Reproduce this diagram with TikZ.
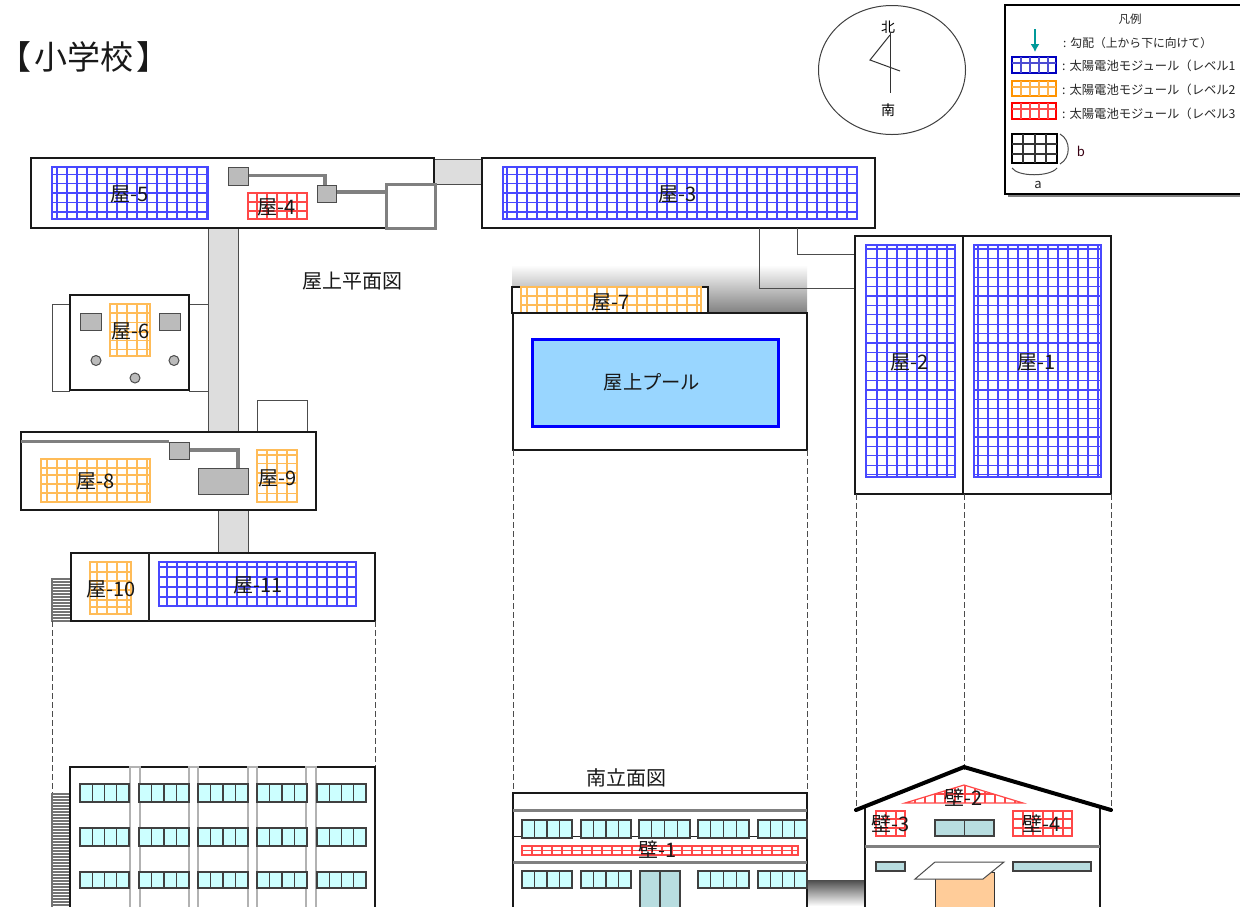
\documentclass[tikz,border=0pt]{standalone}
\usepackage{fontspec}
\usetikzlibrary{arrows.meta}
\setmainfont{Noto Sans CJK JP}
\newcommand{\modgrid}[7]{%
  \draw[modline,draw=#1] (#2,#3) rectangle (#4,#5);
  \foreach \gx in {#6} {\draw[modline,draw=#1] (\gx,#3) -- (\gx,#5);}
  \foreach \gy in {#7} {\draw[modline,draw=#1] (#2,\gy) -- (#4,\gy);}
}
\newcommand{\winbox}[6][wincyan]{%
  \draw[winline,fill=#1] (#2,#3) rectangle (#4,#5);
  \foreach \wi in {1,...,#6} {\draw[winline] ({#2+(#4-#2)*\wi/(#6+1)},#3) -- ({#2+(#4-#2)*\wi/(#6+1)},#5);}
}
\definecolor{modblue}{HTML}{4848FF}
\definecolor{modorange}{HTML}{FFBC58}
\definecolor{modred}{HTML}{FF4848}
\definecolor{wincyan}{HTML}{CCFFFF}
\definecolor{winteal}{HTML}{B8DDE0}
\definecolor{corridor}{HTML}{DDDDDD}
\definecolor{unitgray}{HTML}{BBBBBB}
\definecolor{pipegray}{HTML}{808080}
\tikzset{
  modline/.style={line width=1.2pt},
  winline/.style={line width=1.2pt,draw=black!75},
  wall/.style={line width=2.2pt,draw=black!90},
  thinwall/.style={line width=1pt,draw=black!70},
  bridge/.style={line width=1pt,draw=black!70,fill=corridor},
  unitbox/.style={line width=1pt,draw=black!70,fill=unitgray},
  pipe/.style={line width=3.5pt,draw=pipegray},
  graybar/.style={line width=3pt,draw=pipegray},
  vent/.style={line width=1pt,draw=black!70,fill=unitgray},
  dashline/.style={line width=0.9pt,draw=black!70,dash pattern=on 6pt off 3pt},
  stairline/.style={line width=1.1pt,draw=black!55},
  lab/.style={inner sep=0pt,font=\fontsize{20}{20}\selectfont,text=black!90},
  leg/.style={inner sep=0pt,anchor=west,text=black!85},
  legbig/.style={leg,font=\fontsize{12.3}{13}\selectfont},
}
\begin{document}
\begin{tikzpicture}[x=1pt,y=-1pt]
\useasboundingbox (0,0) rectangle (1240,906);
\clip (0,0) rectangle (1240,906);
\fill[white] (0,0) rectangle (1240,906);

% title
\node[inner sep=0pt,font=\fontsize{33}{33}\selectfont,text=black!90] (title) at (84,57) {【\hspace{3pt}小学校\hspace{3pt}】};

% compass
\draw[line width=1pt,draw=black!75] (892,70) ellipse [x radius=73.5,y radius=64.5];
\node[inner sep=0pt,font=\fontsize{14}{14}\selectfont] (north) at (888,27) {北};
\node[inner sep=0pt,font=\fontsize{14}{14}\selectfont] (south) at (888,110) {南};
\draw[line width=1pt,draw=black!80] (890,33) -- (890,93);
\draw[line width=1pt,draw=black!80] (890,35) -- (870,60) -- (900,71);

% legend
\fill[black!50] (1008,9) rectangle (1244,197);
\draw[line width=1.2pt,fill=white] (1005,5) rectangle (1244,194);
\node[inner sep=0pt,font=\fontsize{11.5}{12}\selectfont,text=black!85] (legtitle) at (1130,19) {凡例};
\coordinate (arrtop) at (1035,29);
\coordinate (arrbot) at (1035,52);
\draw[line width=1.3pt,draw=teal!80!cyan,-{Latex[length=8pt,width=9pt]}] (arrtop) -- (arrbot);
\node[leg,font=\fontsize{11.8}{12}\selectfont] (leg0) at (1063,43) {:\hspace{4pt}勾配（上から下に向けて）};
\node[legbig] (leg1) at (1062,66) {:\hspace{4pt}太陽電池モジュール（レベル1};
\node[legbig] (leg2) at (1062,90) {:\hspace{4pt}太陽電池モジュール（レベル2};
\node[legbig] (leg3) at (1062,114) {:\hspace{4pt}太陽電池モジュール（レベル3};
\foreach \sc/\sa/\sb/\sm in {blue!75!black/57/73/63,orange!85!yellow/81/96/87,red/103/119/109}{
  \draw[line width=2.2pt,draw=\sc] (1012,\sa) rectangle (1056,\sb);
  \draw[line width=1.2pt,draw=\sc!70] (1012,\sm) -- (1056,\sm);
  \foreach \gx in {1021,1030,1039,1048} {\draw[line width=1.2pt,draw=\sc!70] (\gx,\sa) -- (\gx,\sb);}
}
\draw[line width=2.2pt] (1012,134) rectangle (1057,163);
\foreach \gx in {1023,1035,1046} {\draw[line width=1.2pt,draw=black!80] (\gx,134) -- (\gx,163);}
\foreach \gy in {144,154} {\draw[line width=1.2pt,draw=black!80] (1012,\gy) -- (1057,\gy);}
\draw[line width=1pt,draw=black!70] (1060,134) .. controls (1071,140) and (1071,158) .. (1060,164);
\draw[line width=1pt,draw=black!70] (1012,168) .. controls (1018,177) and (1050,177) .. (1057,168);
\node[inner sep=0pt,font=\fontsize{13}{13}\selectfont,text=black!70!purple] (legb) at (1081,151) {b};
\node[inner sep=0pt,font=\fontsize{13}{13}\selectfont,text=black!85] (lega) at (1038,185) {a};

% corridors
\draw[bridge] (208,228) rectangle (238,432);
\draw[bridge] (218,510) rectangle (248,553);
\draw[bridge] (434,159) rectangle (482,184);

% north buildings
\draw[wall,fill=white] (31,158) rectangle (434,228);
\draw[wall,fill=white] (482,158) rectangle (875,228);
\modgrid{modblue}{52}{167}{208}{219}{57,67,...,207}{174.5,183.5,193,202.5,212}
\modgrid{modred}{248}{193}{307}{219}{257,267,...,297}{202,211}
\modgrid{modblue}{503}{167}{857}{219}{507,517,...,857}{174.5,183.5,193,202.5,212}
\draw[pipe] (248,175.5) -- (325,175.5) -- (325,185);
\draw[pipe] (336,192) -- (386,192);
\draw[unitbox] (228,167) rectangle (248,185);
\draw[unitbox] (317,185) rectangle (336,202);
\draw[line width=3pt,draw=pipegray,fill=white] (386,184) rectangle (435,228);
\node[lab] (r5) at (129.5,194) {屋-5};
\node[lab] (r4) at (277,207) {屋-4};
\node[lab] (r3) at (678,194) {屋-3};
\node[lab] (plan) at (352,281) {屋上平面図};

% roof 6
\draw[thinwall] (70,304) -- (52,304) -- (52,391) -- (70,391);
\draw[thinwall] (189,304) -- (208,304);
\draw[thinwall] (189,391) -- (208,391);
\draw[wall,fill=white] (70,295) rectangle (189,390);
\modgrid{modorange}{110}{304}{150}{356}{117,127,137,147}{313,322.5,332,340.5,349.5}
\draw[unitbox] (80,313) rectangle (101,330);
\draw[unitbox] (159,313) rectangle (180,330);
\draw[vent] (96,360.5) circle (5);
\draw[vent] (174,360.5) circle (5);
\draw[vent] (135,378) circle (5);
\node[lab] (r6) at (131,331) {屋-6};

% roof 8 / 9
\draw[thinwall] (257,432) -- (257,400) -- (307,400) -- (307,432);
\draw[wall,fill=white] (21,432) rectangle (316,510);
\modgrid{modorange}{41}{459}{150}{502}{47,57,...,147}{468,475,484,493}
\modgrid{modorange}{257}{450}{297}{502}{267,277,287}{455,463.5,473,483,493.5}
\draw[pipe] (21,441.5) -- (169,441.5);
\draw[pipe] (189,450) -- (238,450) -- (238,468);
\draw[unitbox] (169,442) rectangle (189,459);
\draw[unitbox] (198,468) rectangle (248,494);
\node[lab] (r8) at (96,481) {屋-8};
\node[lab] (r9) at (278,478) {屋-9};

% roof 10 / 11
\draw[stairline,fill=white] (52,579) rectangle (71,621);
\foreach \sy in {582,585,...,618} {\draw[stairline] (52,\sy) -- (71,\sy);}
\draw[wall,fill=white] (71,553) rectangle (375,621);
\draw[line width=1.2pt,draw=black!85] (149,553) -- (149,621);
\modgrid{modorange}{90}{562}{131}{614}{97,107,117,127}{572,581,590,600,607}
\modgrid{modblue}{159}{562}{356}{606}{167,177,...,347}{567,577,587,597}
\node[lab] (r10) at (111,589) {屋-10};
\node[lab] (r11) at (258,585) {屋-11};

% pool building
\shade[top color=white,bottom color=pipegray] (512,265) rectangle (807,313);
\draw[thinwall] (759,228) -- (759,288) -- (855,288);
\draw[thinwall] (797,228) -- (797,254) -- (855,254);
\draw[wall,fill=white] (512,313) -- (512,287) -- (708,287) -- (708,313) -- cycle;
\modgrid{modorange}{521}{287}{701}{314}{527,537,...,697}{296,305}
\draw[wall,fill=white] (513,313) rectangle (807,450);
\draw[line width=3pt,draw=blue,fill=blue!40!cyan!40] (532,339) rectangle (778,426);
\node[lab] (r7) at (611,302) {屋-7};
\node[lab,font=\fontsize{19.3}{20}\selectfont] (pool) at (652,382) {屋上プール};

% roof 1 / 2
\draw[wall,fill=white] (855,236) rectangle (1111,494);
\draw[wall] (963,236) -- (963,494);
\modgrid{modblue}{866}{245}{955}{477}{877,887,...,947}{249,258.4,...,475}
\modgrid{modblue}{974}{245}{1101}{477}{978,988,...,1098}{249,258.4,...,475}
\node[lab] (r2) at (910,362) {屋-2};
\node[lab] (r1) at (1037,362) {屋-1};

% projection lines
\draw[dashline] (52,621) -- (52,794);
\draw[dashline] (375,621) -- (375,767);
\draw[dashline] (513,450) -- (513,793);
\draw[dashline] (807,450) -- (807,793);
\draw[dashline] (856,494) -- (856,810);
\draw[dashline] (964,494) -- (964,785);
\draw[dashline] (1111,494) -- (1111,810);

% west elevation
\draw[stairline,fill=white] (52,794) rectangle (70,910);
\foreach \sy in {797,800,...,906} {\draw[stairline] (52,\sy) -- (70,\sy);}
\draw[wall,fill=white] (70,767) rectangle (375,910);
\foreach \cx/\cy in {130/140,189/198,248/257,306/316} {
  \draw[line width=1.5pt,draw=black!30,fill=white] (\cx,767) rectangle (\cy,910);
}
\foreach \wa/\wb in {784/802,828/846,872/888} {
  \foreach \xa/\xb in {80/129,139/189,198/248,257/307,317/366} {
    \winbox{\xa}{\wa}{\xb}{\wb}{3}
  }
}

% centre elevation
\shade[top color=black!70,bottom color=white] (807,880) rectangle (865,906);
\draw[wall,fill=white] (513,793) rectangle (807,910);
\draw[line width=1pt,draw=black!85] (513,836) -- (807,836);
\draw[graybar] (513,810) -- (807,810);
\draw[graybar] (513,862) -- (807,862);
\foreach \xa/\xb in {522/572,581/631,639/690,698/749,758/807} {
  \winbox{\xa}{820}{\xb}{838}{3}
}
\foreach \xa/\xb in {522/572,581/631,698/749,758/807} {
  \winbox{\xa}{871}{\xb}{888}{3}
}
\winbox[winteal]{640}{871}{680}{910}{1}
\modgrid{modred}{522}{846}{798}{855}{532,542,...,792}{850.5}
\node[lab] (w1) at (658,850) {壁-1};

% east elevation
\fill[white] (865,810) -- (964,770) -- (1100,810) -- (1100,906) -- (865,906) -- cycle;
\draw[wall] (865,808) -- (865,910);
\draw[wall] (1100,808) -- (1100,910);
\draw[graybar] (865,846) -- (1100,846);
\begin{scope}
  \clip (905,803) -- (964,785) -- (1023,803) -- cycle;
  \foreach \gx in {915,925,...,1015} {\draw[modline,draw=modred] (\gx,785) -- (\gx,803);}
  \draw[modline,draw=modred] (905,794) -- (1023,794);
\end{scope}
\draw[modline,draw=modred] (905,803) -- (964,785) -- (1023,803) -- cycle;
\modgrid{modred}{876}{811}{905}{836}{886,896}{819,828}
\modgrid{modred}{1013}{811}{1072}{836}{1023,1033,...,1063}{819,828}
\winbox[winteal]{935}{820}{994}{836}{1}
\draw[winline,fill=winteal] (876,862) rectangle (905,871);
\draw[winline,fill=winteal] (1013,862) rectangle (1091,871);
\draw[line width=1pt,draw=black!80,fill=orange!40!white] (935,872) rectangle (994,910);
\draw[line width=1pt,draw=black!70,fill=white] (935,862) -- (1004,862) -- (983,879) -- (915,879) -- cycle;
\draw[line width=4pt,line cap=round,line join=miter] (856,810) -- (964,767) -- (1111,810);
\node[lab] (w2) at (964,798) {壁-2};
\node[lab] (w3) at (891,824) {壁-3};
\node[lab] (w4) at (1042,824) {壁-4};
\node[lab] (southelev) at (626,778) {南立面図};
\end{tikzpicture}
\end{document}
